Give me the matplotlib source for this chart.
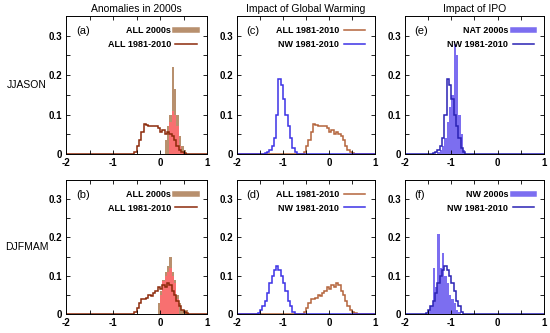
import numpy as np
import matplotlib
matplotlib.use("Agg")
import matplotlib.pyplot as plt
from matplotlib.lines import Line2D

plt.rcParams['font.family'] = ['Liberation Sans', 'DejaVu Sans']

# histogram bins: 0.05 wide from -2 to 1
bin_lo, bin_hi, bin_w = -2.0, 1.0, 0.05

# each series: first bin edge + relative frequencies
all_clim_jjason_start = -0.55
all_clim_jjason = [0.005, 0.02, 0.035, 0.055, 0.075, 0.073, 0.07, 0.072, 0.07, 0.07, 0.065,
                   0.055, 0.06, 0.05, 0.055, 0.05, 0.045, 0.035, 0.02, 0.01, 0.005, 0.002, 0.001]
all_2000s_jjason_start = 0.10
all_2000s_jjason = [0.035, 0.07, 0.10, 0.22, 0.165, 0.10, 0.045, 0.02, 0.01]
red_2000s_jjason_start = 0.20
red_2000s_jjason = [0.08, 0.11, 0.10, 0.07, 0.02, 0.005]

all_clim_djfmam_start = -0.55
all_clim_djfmam = [0.005, 0.015, 0.03, 0.04, 0.038, 0.042, 0.05, 0.048, 0.055, 0.06, 0.07,
                   0.065, 0.075, 0.07, 0.082, 0.075, 0.06, 0.05, 0.035, 0.02, 0.01, 0.005, 0.002]
all_2000s_djfmam_start = -0.05
all_2000s_djfmam = [0.03, 0.06, 0.09, 0.11, 0.125, 0.15, 0.11, 0.09, 0.05, 0.03, 0.01, 0.01, 0.01]
red_2000s_djfmam_start = 0.0
red_2000s_djfmam = [0.05, 0.085, 0.1, 0.11, 0.12, 0.1, 0.08, 0.04]

nw_clim_jjason_start = -1.40
nw_clim_jjason = [0.003, 0.005, 0.01, 0.02, 0.04, 0.10, 0.19, 0.175, 0.14, 0.10, 0.07, 0.04, 0.015, 0.005]
nw_clim_djfmam_start = -1.55
nw_clim_djfmam = [0.003, 0.01, 0.02, 0.035, 0.055, 0.08, 0.10, 0.115, 0.125, 0.115, 0.10, 0.08,
                  0.06, 0.035, 0.02, 0.005]

nat_2000s_jjason_start = -1.30
nat_2000s_jjason = [0.005, 0.01, 0.02, 0.04, 0.08, 0.12, 0.15, 0.28, 0.25, 0.10, 0.05, 0.01]
nw_2000s_djfmam_start = -1.50
nw_2000s_djfmam = [0.01, 0.02, 0.12, 0.07, 0.21, 0.12, 0.16, 0.10, 0.08, 0.05, 0.04, 0.03, 0.01, 0.005]

col_titles = ["Anomalies in 2000s", "Impact of Global Warming", "Impact of IPO"]
row_titles = ["JJASON", "DJFMAM"]
letters = [["(a)", "(c)", "(e)"], ["(b)", "(d)", "(f)"]]

tan = '#b8906e'
red = '#f87070'
brown_dark = '#8c2a0a'
brown = '#b4643c'
blue = '#3c32e6'
navy = '#2a22b4'
blue_fill = '#7c6ef0'

edges = np.linspace(bin_lo, bin_hi, int(round((bin_hi - bin_lo) / bin_w)) + 1)


def full(start, vals):
    out = np.zeros(len(edges) - 1)
    i = int(round((start - bin_lo) / bin_w))
    out[i:i + len(vals)] = vals
    return out


fig = plt.figure(figsize=(5.5, 3.33), dpi=100)
W, H = 550, 333
lefts = [66, 237, 405]
widths = [141, 138, 139]
rows = [(16, 154), (180, 314)]

axes = [[None] * 3 for _ in range(2)]
for r, (top, bot) in enumerate(rows):
    for c in range(3):
        ax = fig.add_axes([lefts[c] / W, 1 - bot / H, widths[c] / W, (bot - top) / H])
        axes[r][c] = ax

legend_items = [[None] * 3 for _ in range(2)]

# column 1: anomalies in 2000s
for r, (a2000, a2000s, rd, rds, clim, clims) in enumerate([
        (all_2000s_jjason, all_2000s_jjason_start, red_2000s_jjason, red_2000s_jjason_start,
         all_clim_jjason, all_clim_jjason_start),
        (all_2000s_djfmam, all_2000s_djfmam_start, red_2000s_djfmam, red_2000s_djfmam_start,
         all_clim_djfmam, all_clim_djfmam_start)]):
    ax = axes[r][0]
    ax.stairs(full(a2000s, a2000), edges, fill=True, color=tan, lw=0)
    ax.stairs(full(rds, rd), edges, fill=True, color=red, lw=0)
    ax.stairs(full(clims, clim), edges, color=brown_dark, lw=1.1, baseline=None)
    hs = [Line2D([], [], color=tan, lw=4), Line2D([], [], color=brown_dark, lw=1.1)]
    legend_items[r][0] = (hs, ["ALL 2000s", "ALL 1981-2010"])

# column 2: global warming
for r, (clim, clims, nw, nws) in enumerate([
        (all_clim_jjason, all_clim_jjason_start, nw_clim_jjason, nw_clim_jjason_start),
        (all_clim_djfmam, all_clim_djfmam_start, nw_clim_djfmam, nw_clim_djfmam_start)]):
    ax = axes[r][1]
    ax.stairs(full(clims, clim), edges, color=brown, lw=1.1, baseline=None)
    ax.stairs(full(nws, nw), edges, color=blue, lw=1.1, baseline=None)
    hs = [Line2D([], [], color=brown, lw=1.1), Line2D([], [], color=blue, lw=1.1)]
    legend_items[r][1] = (hs, ["ALL 1981-2010", "NW 1981-2010"])

# column 3: IPO
for r, (f, fs, nw, nws, lab) in enumerate([
        (nat_2000s_jjason, nat_2000s_jjason_start, nw_clim_jjason, nw_clim_jjason_start, "NAT 2000s"),
        (nw_2000s_djfmam, nw_2000s_djfmam_start, nw_clim_djfmam, nw_clim_djfmam_start, "NW 2000s")]):
    ax = axes[r][2]
    ax.stairs(full(fs, f), edges, fill=True, color=blue_fill, lw=0)
    ax.stairs(full(nws, nw), edges, color=navy, lw=1.1, baseline=None)
    hs = [Line2D([], [], color=blue_fill, lw=4), Line2D([], [], color=navy, lw=1.1)]
    legend_items[r][2] = (hs, [lab, "NW 1981-2010"])

for r in range(2):
    for c in range(3):
        ax = axes[r][c]
        ax.set_xlim(-2, 1)
        ax.set_ylim(0, 0.35)
        ax.set_xticks([-2, -1.5, -1, -0.5, 0, 0.5, 1])
        ax.set_xticklabels(["-2", "", "-1", "", "0", "", "1"])
        ax.set_yticks([0, 0.05, 0.1, 0.15, 0.2, 0.25, 0.3])
        ax.set_yticklabels(["0", "", "0.1", "", "0.2", "", "0.3"])
        ax.tick_params(direction='in', length=3, width=0.6, top=True, right=True,
                       labelsize=7, pad=3)
        for lbl in ax.get_xticklabels() + ax.get_yticklabels():
            lbl.set_fontweight('bold')
        for s in ax.spines.values():
            s.set_linewidth(0.7)
        ax.text(0.07, 0.89, letters[r][c], transform=ax.transAxes, fontsize=8, va='center')
        hs, labs = legend_items[r][c]
        ax.legend(hs, labs, loc='upper right', bbox_to_anchor=(0.93, 0.925),
                  markerfirst=False, frameon=False, borderpad=0, borderaxespad=0,
                  handlelength=2.4, handletextpad=0.5, labelspacing=0.5,
                  prop={'size': 6.5, 'weight': 'bold'})
    axes[r][0].text(-0.28, 0.5, row_titles[r], transform=axes[r][0].transAxes,
                    fontsize=7.5, ha='center', va='center')

for c in range(3):
    axes[0][c].set_title(col_titles[c], fontsize=7.5, pad=3)

fig.savefig("out.png", dpi=100)
